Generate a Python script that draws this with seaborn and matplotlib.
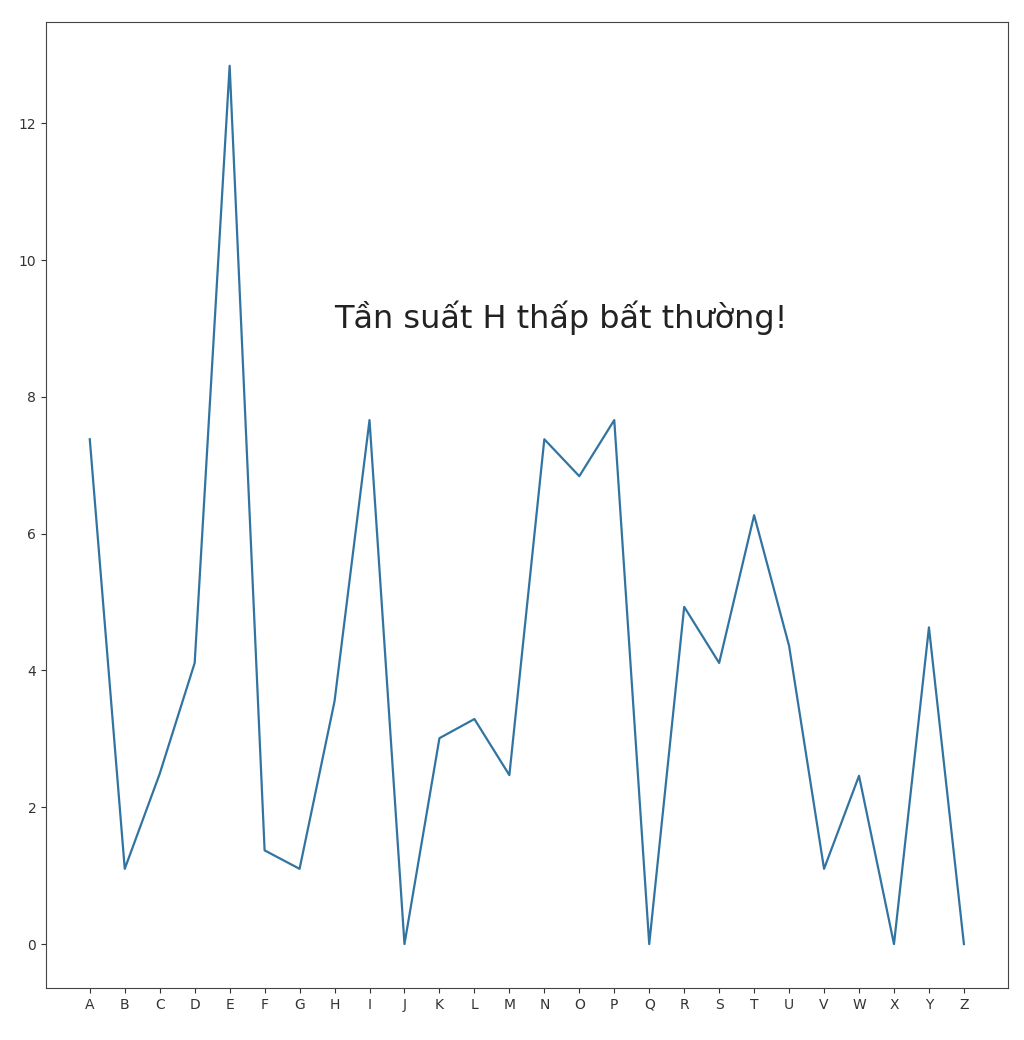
import pandas as pd
import matplotlib
matplotlib.use("Agg")
import matplotlib.pyplot as plt
import seaborn as sns

# letter frequencies (%)
letters = list("ABCDEFGHIJKLMNOPQRSTUVWXYZ")
freq = [7.38, 1.10, 2.49, 4.11, 12.84, 1.37, 1.10, 3.55, 7.66, 0.0,
        3.01, 3.29, 2.47, 7.38, 6.84, 7.66, 0.0, 4.93, 4.11, 6.27,
        4.36, 1.10, 2.46, 0.0, 4.63, 0.0]
note = "Tần suất H thấp bất thường!"

df = pd.DataFrame({"letter": letters, "freq": freq})

fig, ax = plt.subplots(figsize=(10.24, 10.4), dpi=100)
sns.lineplot(data=df, x="letter", y="freq", ax=ax, color="#3274a1", linewidth=1.6)
ax.set_xlabel("")
ax.set_ylabel("")
for s in ax.spines.values():
    s.set_color("#444444")
ax.tick_params(colors="#333333")
ax.text(7, 9, note, fontsize=23, color="#222222")

plt.subplots_adjust(left=0.045, right=0.984, bottom=0.05, top=0.979)
plt.savefig("out.png")
